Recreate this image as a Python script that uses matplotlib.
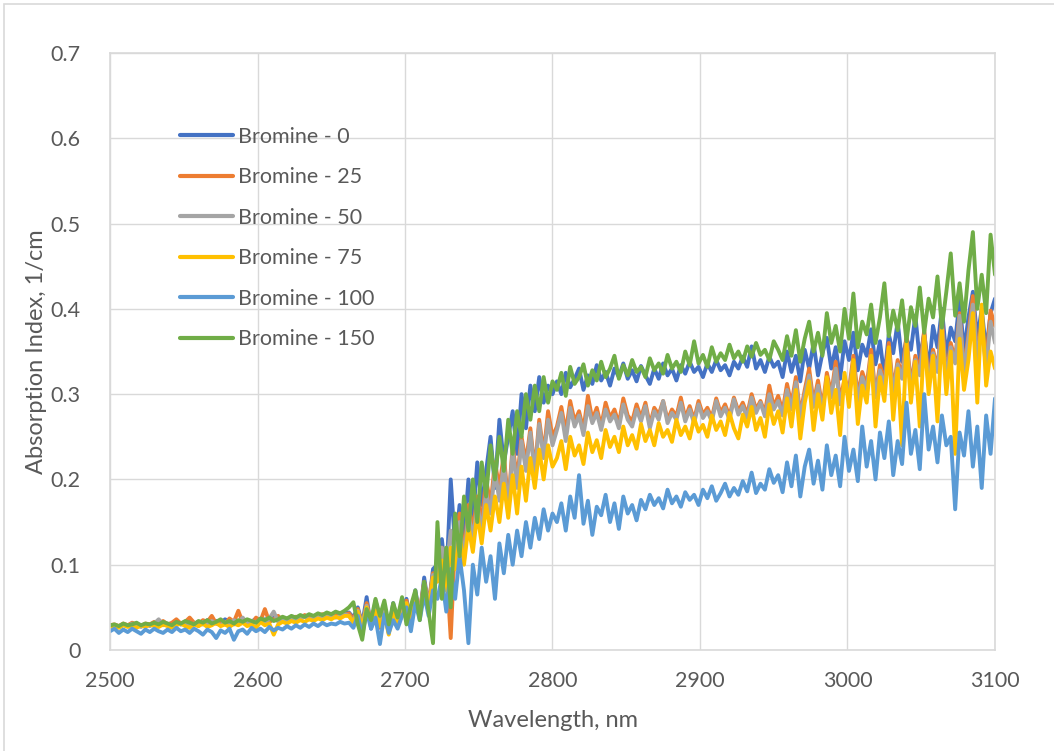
import numpy as np
import matplotlib
matplotlib.use("Agg")
import matplotlib.pyplot as plt
from matplotlib.patches import Rectangle

plt.rcParams['font.family'] = ['Lato', 'DejaVu Sans']

# wavelength grid, nm
wavelength = np.arange(2500, 3101, 3)

labels = ["Bromine - 0", "Bromine - 25", "Bromine - 50",
          "Bromine - 75", "Bromine - 100", "Bromine - 150"]
colors = ["#4472C4", "#ED7D31", "#A5A5A5", "#FFC000", "#5B9BD5", "#70AD47"]

xticks = [2500, 2600, 2700, 2800, 2900, 3000, 3100]
yticks = [0, 0.1, 0.2, 0.3, 0.4, 0.5, 0.6, 0.7]
ytick_labels = ["0", "0.1", "0.2", "0.3", "0.4", "0.5", "0.6", "0.7"]

# absorption index, 1/cm
bromine_0 = [
    0.028, 0.029, 0.027, 0.030, 0.028, 0.029, 0.031, 0.028, 0.030, 0.029,
    0.031, 0.030, 0.032, 0.029, 0.031, 0.033, 0.030, 0.032, 0.034, 0.031,
    0.033, 0.030, 0.035, 0.032, 0.034, 0.031, 0.036, 0.033, 0.030, 0.034,
    0.032, 0.035, 0.033, 0.037, 0.034, 0.036, 0.033, 0.038, 0.035, 0.037,
    0.036, 0.039, 0.036, 0.038, 0.040, 0.037, 0.039, 0.041, 0.038, 0.040,
    0.042, 0.039, 0.041, 0.043,
    0.044, 0.038, 0.050, 0.030, 0.062, 0.025, 0.058, 0.035, 0.048, 0.022,
    0.055, 0.030, 0.045, 0.060, 0.028, 0.070, 0.040, 0.085, 0.050, 0.095,
    0.100, 0.130, 0.080, 0.200, 0.120, 0.170, 0.130, 0.200, 0.150, 0.220,
    0.170, 0.210, 0.250, 0.190, 0.270, 0.220, 0.250, 0.280, 0.230, 0.300,
    0.260, 0.310, 0.280, 0.320, 0.290, 0.310, 0.300,
    0.315, 0.300, 0.325, 0.308, 0.318, 0.330, 0.305, 0.322, 0.312, 0.334,
    0.316, 0.326, 0.310, 0.330, 0.320, 0.336, 0.318, 0.328, 0.315, 0.333,
    0.322, 0.312, 0.330, 0.318, 0.336, 0.322, 0.330, 0.316, 0.334, 0.324,
    0.338, 0.326, 0.332, 0.320, 0.336, 0.326, 0.340, 0.328, 0.334, 0.322,
    0.338, 0.330, 0.344, 0.332, 0.356, 0.330, 0.340, 0.326, 0.344, 0.332,
    0.338, 0.320, 0.350, 0.326, 0.345, 0.315, 0.352, 0.330, 0.360, 0.322,
    0.348, 0.366, 0.330, 0.355, 0.318, 0.362, 0.340, 0.372, 0.328, 0.358,
    0.345, 0.376, 0.335, 0.362, 0.320, 0.370, 0.348, 0.385, 0.338, 0.365,
    0.352, 0.392, 0.340, 0.372, 0.328, 0.380, 0.355, 0.400, 0.345, 0.378,
    0.362, 0.410, 0.350, 0.390, 0.420, 0.365, 0.400, 0.350, 0.395, 0.412,
]

bromine_25 = [
    0.029, 0.030, 0.028, 0.031, 0.029, 0.032, 0.030, 0.028, 0.031, 0.030,
    0.033, 0.031, 0.034, 0.030, 0.032, 0.036, 0.031, 0.033, 0.038, 0.032,
    0.030, 0.035, 0.033, 0.040, 0.031, 0.034, 0.030, 0.037, 0.033, 0.046,
    0.032, 0.035, 0.030, 0.038, 0.034, 0.048, 0.033, 0.036, 0.040, 0.034,
    0.037, 0.035, 0.039, 0.036, 0.041, 0.037, 0.040, 0.038, 0.042, 0.039,
    0.041, 0.040, 0.043, 0.041,
    0.043, 0.036, 0.048, 0.028, 0.055, 0.032, 0.050, 0.026, 0.046, 0.020,
    0.052, 0.034, 0.044, 0.058, 0.030, 0.065, 0.045, 0.080, 0.055, 0.090,
    0.090, 0.120, 0.100, 0.014, 0.130, 0.160, 0.110, 0.170, 0.140, 0.180,
    0.150, 0.200, 0.170, 0.220, 0.190, 0.230, 0.170, 0.240, 0.200, 0.250,
    0.220, 0.260, 0.210, 0.270, 0.230, 0.280, 0.250,
    0.262, 0.285, 0.255, 0.292, 0.268, 0.280, 0.258, 0.298, 0.270, 0.284,
    0.262, 0.290, 0.272, 0.282, 0.265, 0.295, 0.275, 0.268, 0.288, 0.272,
    0.290, 0.264, 0.284, 0.276, 0.292, 0.270, 0.282, 0.274, 0.296, 0.272,
    0.286, 0.270, 0.292, 0.276, 0.284, 0.272, 0.295, 0.278, 0.288, 0.274,
    0.296, 0.280, 0.290, 0.276, 0.300, 0.282, 0.292, 0.278, 0.310, 0.285,
    0.298, 0.280, 0.312, 0.288, 0.320, 0.276, 0.305, 0.330, 0.290, 0.316,
    0.284, 0.325, 0.300, 0.338, 0.292, 0.318, 0.305, 0.345, 0.298, 0.326,
    0.310, 0.352, 0.300, 0.334, 0.315, 0.360, 0.305, 0.340, 0.322, 0.368,
    0.310, 0.345, 0.328, 0.375, 0.315, 0.352, 0.330, 0.388, 0.320, 0.360,
    0.340, 0.395, 0.328, 0.370, 0.415, 0.345, 0.385, 0.335, 0.398, 0.380,
]

bromine_50 = [
    0.028, 0.029, 0.027, 0.030, 0.028, 0.031, 0.029, 0.027, 0.030, 0.028,
    0.031, 0.036, 0.029, 0.031, 0.028, 0.032, 0.030, 0.033, 0.029, 0.031,
    0.028, 0.033, 0.030, 0.034, 0.031, 0.029, 0.033, 0.030, 0.035, 0.032,
    0.038, 0.031, 0.034, 0.032, 0.036, 0.030, 0.037, 0.045, 0.033, 0.036,
    0.034, 0.038, 0.035, 0.037, 0.039, 0.036, 0.038, 0.040, 0.037, 0.039,
    0.041, 0.038, 0.040, 0.042,
    0.040, 0.034, 0.046, 0.030, 0.052, 0.028, 0.050, 0.033, 0.045, 0.024,
    0.050, 0.030, 0.043, 0.055, 0.028, 0.062, 0.042, 0.078, 0.052, 0.088,
    0.085, 0.120, 0.095, 0.140, 0.110, 0.150, 0.105, 0.160, 0.130, 0.170,
    0.140, 0.185, 0.160, 0.210, 0.175, 0.220, 0.165, 0.235, 0.190, 0.245,
    0.210, 0.255, 0.205, 0.265, 0.225, 0.270, 0.240,
    0.258, 0.278, 0.245, 0.284, 0.262, 0.275, 0.252, 0.286, 0.266, 0.278,
    0.258, 0.282, 0.268, 0.276, 0.260, 0.288, 0.270, 0.262, 0.282, 0.268,
    0.286, 0.260, 0.280, 0.270, 0.292, 0.266, 0.278, 0.270, 0.290, 0.268,
    0.282, 0.266, 0.288, 0.272, 0.280, 0.268, 0.292, 0.274, 0.284, 0.270,
    0.294, 0.276, 0.286, 0.272, 0.296, 0.278, 0.290, 0.274, 0.300, 0.282,
    0.292, 0.275, 0.305, 0.282, 0.314, 0.272, 0.300, 0.322, 0.285, 0.310,
    0.280, 0.318, 0.296, 0.330, 0.288, 0.312, 0.300, 0.338, 0.292, 0.320,
    0.305, 0.345, 0.296, 0.328, 0.310, 0.352, 0.300, 0.335, 0.318, 0.360,
    0.305, 0.340, 0.322, 0.368, 0.310, 0.348, 0.326, 0.380, 0.316, 0.355,
    0.336, 0.392, 0.325, 0.365, 0.405, 0.340, 0.380, 0.330, 0.385, 0.360,
]

bromine_75 = [
    0.027, 0.028, 0.026, 0.029, 0.027, 0.028, 0.026, 0.029, 0.027, 0.030,
    0.028, 0.027, 0.030, 0.028, 0.026, 0.029, 0.031, 0.028, 0.026, 0.030,
    0.028, 0.031, 0.027, 0.029, 0.032, 0.028, 0.030, 0.027, 0.031, 0.029,
    0.032, 0.028, 0.030, 0.026, 0.033, 0.029, 0.031, 0.018, 0.030, 0.033,
    0.031, 0.034, 0.032, 0.035, 0.033, 0.036, 0.034, 0.037, 0.035, 0.038,
    0.036, 0.039, 0.037, 0.040,
    0.040, 0.032, 0.045, 0.026, 0.050, 0.030, 0.046, 0.028, 0.042, 0.018,
    0.048, 0.030, 0.040, 0.055, 0.032, 0.060, 0.040, 0.072, 0.048, 0.085,
    0.080, 0.105, 0.070, 0.120, 0.095, 0.135, 0.100, 0.145, 0.115, 0.160,
    0.125, 0.170, 0.140, 0.180, 0.150, 0.195, 0.155, 0.205, 0.160, 0.215,
    0.175, 0.225, 0.190, 0.235, 0.200, 0.240, 0.215,
    0.225, 0.245, 0.212, 0.250, 0.228, 0.240, 0.218, 0.255, 0.232, 0.246,
    0.225, 0.258, 0.238, 0.250, 0.232, 0.262, 0.240, 0.252, 0.236, 0.265,
    0.245, 0.258, 0.240, 0.266, 0.250, 0.258, 0.244, 0.270, 0.252, 0.262,
    0.248, 0.272, 0.256, 0.264, 0.250, 0.275, 0.258, 0.268, 0.252, 0.278,
    0.260, 0.248, 0.276, 0.262, 0.285, 0.258, 0.272, 0.250, 0.288, 0.265,
    0.280, 0.255, 0.295, 0.262, 0.305, 0.248, 0.290, 0.315, 0.258, 0.300,
    0.270, 0.320, 0.278, 0.305, 0.252, 0.325, 0.285, 0.340, 0.265, 0.310,
    0.290, 0.345, 0.262, 0.320, 0.292, 0.355, 0.270, 0.330, 0.240, 0.360,
    0.290, 0.338, 0.262, 0.368, 0.300, 0.345, 0.268, 0.375, 0.300, 0.350,
    0.230, 0.365, 0.305, 0.340, 0.395, 0.290, 0.405, 0.310, 0.350, 0.330,
]

bromine_100 = [
    0.022, 0.025, 0.020, 0.024, 0.021, 0.025, 0.022, 0.019, 0.024, 0.021,
    0.025, 0.022, 0.020, 0.024, 0.021, 0.026, 0.022, 0.024, 0.020, 0.025,
    0.022, 0.018, 0.024, 0.021, 0.014, 0.023, 0.020, 0.025, 0.012, 0.022,
    0.024, 0.019, 0.026, 0.022, 0.025, 0.021, 0.027, 0.023, 0.026, 0.024,
    0.028, 0.025, 0.029, 0.026, 0.030, 0.027, 0.031, 0.028, 0.032, 0.029,
    0.031, 0.030, 0.033, 0.031,
    0.032, 0.026, 0.040, 0.018, 0.045, 0.025, 0.038, 0.007, 0.042, 0.020,
    0.035, 0.025, 0.040, 0.050, 0.022, 0.055, 0.035, 0.065, 0.040, 0.070,
    0.060, 0.085, 0.045, 0.095, 0.060, 0.110, 0.070, 0.008, 0.100, 0.065,
    0.120, 0.080, 0.110, 0.060, 0.125, 0.090, 0.135, 0.100, 0.140, 0.110,
    0.150, 0.120, 0.155, 0.130, 0.165, 0.140, 0.160,
    0.150, 0.172, 0.140, 0.180, 0.155, 0.205, 0.148, 0.175, 0.135, 0.168,
    0.158, 0.182, 0.150, 0.172, 0.142, 0.180, 0.160, 0.170, 0.152, 0.176,
    0.165, 0.182, 0.170, 0.178, 0.166, 0.188, 0.172, 0.180, 0.168, 0.185,
    0.176, 0.182, 0.170, 0.188, 0.178, 0.192, 0.175, 0.184, 0.195, 0.180,
    0.190, 0.182, 0.198, 0.186, 0.208, 0.184, 0.195, 0.188, 0.212, 0.196,
    0.205, 0.185, 0.220, 0.192, 0.228, 0.180, 0.215, 0.235, 0.195, 0.222,
    0.188, 0.240, 0.205, 0.228, 0.192, 0.250, 0.210, 0.235, 0.198, 0.262,
    0.215, 0.245, 0.200, 0.255, 0.225, 0.268, 0.205, 0.245, 0.218, 0.290,
    0.230, 0.258, 0.212, 0.300, 0.235, 0.262, 0.220, 0.275, 0.240, 0.250,
    0.165, 0.255, 0.228, 0.280, 0.215, 0.262, 0.190, 0.275, 0.230, 0.295,
]

bromine_150 = [
    0.029, 0.030, 0.028, 0.031, 0.029, 0.030, 0.032, 0.029, 0.031, 0.030,
    0.032, 0.030, 0.033, 0.031, 0.029, 0.033, 0.031, 0.034, 0.032, 0.030,
    0.034, 0.032, 0.035, 0.031, 0.033, 0.036, 0.032, 0.034, 0.031, 0.035,
    0.033, 0.036, 0.034, 0.032, 0.037, 0.035, 0.038, 0.034, 0.036, 0.039,
    0.037, 0.040, 0.038, 0.041, 0.039, 0.042, 0.040, 0.043, 0.041, 0.044,
    0.042, 0.045, 0.043, 0.046,
    0.050, 0.056, 0.030, 0.012, 0.048, 0.035, 0.060, 0.040, 0.058, 0.030,
    0.055, 0.038, 0.062, 0.030, 0.052, 0.070, 0.035, 0.080, 0.045, 0.008,
    0.150, 0.060, 0.120, 0.050, 0.160, 0.110, 0.180, 0.140, 0.200, 0.150,
    0.220, 0.180, 0.240, 0.200, 0.250, 0.210, 0.270, 0.230, 0.280, 0.250,
    0.300, 0.270, 0.310, 0.280, 0.320, 0.290, 0.315,
    0.305, 0.325, 0.298, 0.332, 0.312, 0.320, 0.335, 0.310, 0.328, 0.316,
    0.338, 0.320, 0.330, 0.345, 0.318, 0.334, 0.322, 0.340, 0.326, 0.332,
    0.320, 0.342, 0.328, 0.336, 0.324, 0.346, 0.330, 0.338, 0.326, 0.350,
    0.334, 0.362, 0.336, 0.346, 0.332, 0.355, 0.338, 0.348, 0.340, 0.358,
    0.342, 0.350, 0.338, 0.356, 0.344, 0.360, 0.346, 0.352, 0.340, 0.362,
    0.352, 0.340, 0.368, 0.345, 0.375, 0.338, 0.365, 0.385, 0.350, 0.372,
    0.345, 0.395, 0.360, 0.380, 0.350, 0.400, 0.365, 0.418, 0.355, 0.385,
    0.370, 0.405, 0.360, 0.390, 0.430, 0.368, 0.398, 0.375, 0.410, 0.362,
    0.402, 0.380, 0.425, 0.372, 0.412, 0.390, 0.438, 0.378, 0.420, 0.465,
    0.392, 0.430, 0.385, 0.445, 0.490, 0.400, 0.440, 0.395, 0.487, 0.440,
]

series = [bromine_0, bromine_25, bromine_50, bromine_75, bromine_100, bromine_150]

text_color = "#595959"
grid_color = "#D9D9D9"

fig = plt.figure(figsize=(10.54, 7.51), dpi=100)
ax = fig.add_axes([110 / 1054, 101 / 751, 885 / 1054, 597 / 751])

for values, label, color in zip(series, labels, colors):
    ax.plot(wavelength, values, color=color, lw=2.8, label=label,
            solid_joinstyle="round", solid_capstyle="round")

ax.set_xlim(2500, 3100)
ax.set_ylim(0, 0.7)
ax.set_xticks(xticks)
ax.set_yticks(yticks)
ax.set_yticklabels(ytick_labels)
ax.tick_params(axis="both", length=0, labelsize=15.5, colors=text_color)
ax.tick_params(axis="y", pad=21)
ax.tick_params(axis="x", pad=15)
ax.grid(True, color=grid_color, lw=1.0)
ax.set_axisbelow(True)
for side in ax.spines.values():
    side.set_color(grid_color)
    side.set_linewidth(1.2)

ax.set_xlabel("Wavelength, nm", fontsize=17, color=text_color, labelpad=14)
ax.set_ylabel("Absorption Index, 1/cm", fontsize=17, color=text_color, labelpad=3)

leg = ax.legend(loc="upper left", bbox_to_anchor=(0.079, 0.876), frameon=False,
                fontsize=15.5, handlelength=2.45, handletextpad=0.23,
                labelspacing=0.95, borderpad=0, borderaxespad=0)
for t in leg.get_texts():
    t.set_color(text_color)
for h in leg.get_lines():
    h.set_linewidth(3.0)

# light outer border of the chart area (top and left edges only show)
fig.patches.append(Rectangle((4 / 1054, -0.02), 1.1, 1 - 4 / 751 + 0.02,
                             transform=fig.transFigure, fill=False,
                             edgecolor=grid_color, lw=1.2))

fig.savefig("out.png", dpi=100)
